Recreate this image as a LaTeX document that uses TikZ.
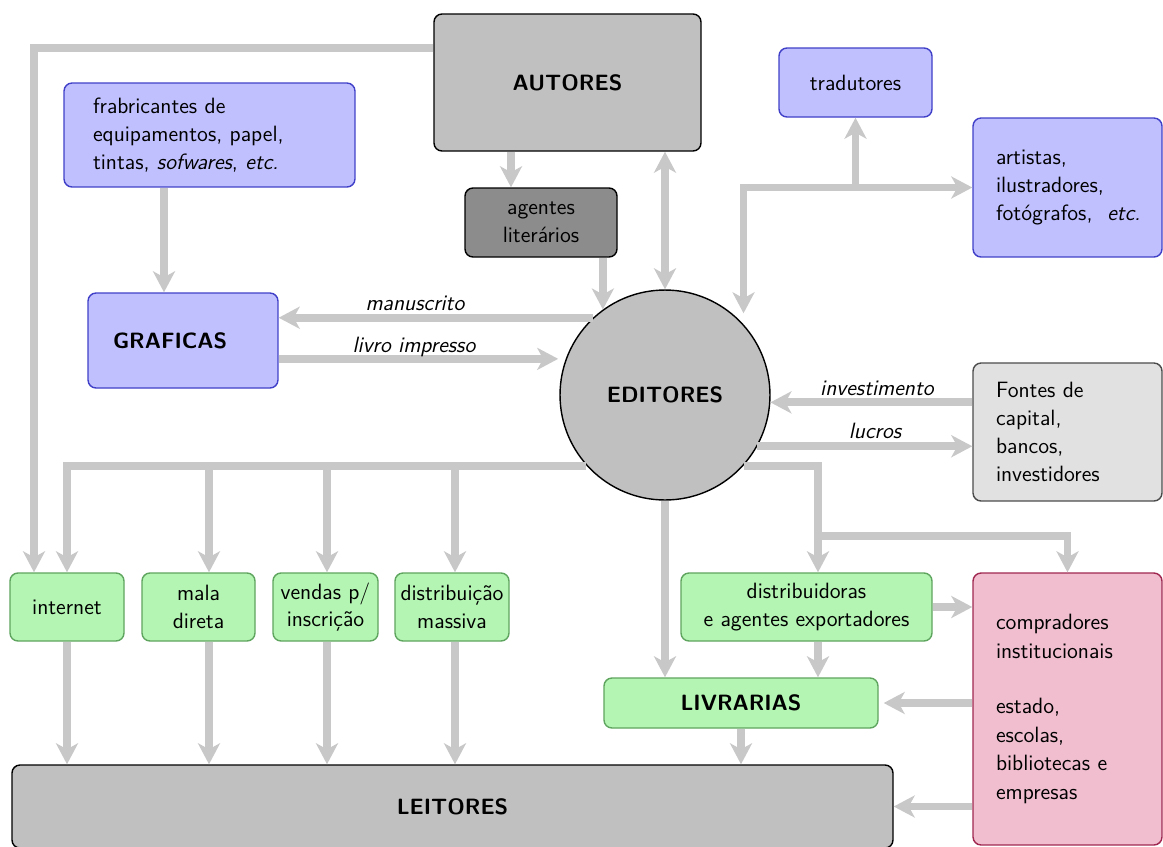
\documentclass[tikz,border=0pt]{standalone}
\usetikzlibrary{arrows.meta,positioning}
\definecolor{flowgray}{RGB}{200,200,200}
\definecolor{bluefill}{RGB}{192,192,255}
\definecolor{blueline}{RGB}{64,64,200}
\definecolor{greenfill}{RGB}{180,245,180}
\definecolor{greenline}{RGB}{95,165,95}
\definecolor{pinkfill}{RGB}{240,190,207}
\definecolor{pinkline}{RGB}{160,40,80}
\definecolor{grayfill}{RGB}{192,192,192}
\definecolor{darkfill}{RGB}{140,140,140}
\definecolor{lightfill}{RGB}{225,225,225}

\begin{document}
\begin{tikzpicture}[
    x=0.02cm, y=-0.02cm,
    every node/.style={font=\sffamily\fontsize{12.6}{15.8}\selectfont},
    box/.style={draw, rounded corners=0.16cm, line width=0.8pt, inner sep=2pt},
    boxsize/.style 2 args={minimum width=#1*0.02cm, minimum height=#2*0.02cm},
    actor/.style={box, fill=grayfill, draw=black},
    agent/.style={box, fill=darkfill, draw=black},
    finance/.style={box, fill=lightfill, draw=black!70},
    supplier/.style={box, fill=bluefill, draw=blueline},
    channel/.style={box, fill=greenfill, draw=greenline, align=center},
    buyer/.style={box, fill=pinkfill, draw=pinkline},
    lbl/.style={font=\sffamily\itshape\fontsize{12.6}{15}\selectfont, inner sep=0pt, anchor=base},
    flow/.style={draw=flowgray, line width=4.5pt, -{Stealth[length=0.42cm,width=0.44cm,inset=0.12cm]}},
    flowboth/.style={draw=flowgray, line width=4.5pt, {Stealth[length=0.42cm,width=0.44cm,inset=0.12cm]}-{Stealth[length=0.42cm,width=0.44cm,inset=0.12cm]}}
  ]
  \useasboundingbox (0,0) rectangle (1163,846);

  % authors, agents and the suppliers of the printers
  \node[actor, boxsize={267}{137}, font=\sffamily\bfseries\fontsize{12.6}{15.8}\selectfont] (autores) at (567.5,82.5) {AUTORES};
  \node[agent, boxsize={152}{69}, align=center] (agentes) at (541,222.5) {agentes\\literários};
  \node[supplier, minimum height=2.08cm, text width=4.66cm, inner xsep=0.58cm, align=left] (fabric) at (209.5,135)
    {frabricantes de\\equipamentos, papel,\\tintas, \textit{sofwares}, \textit{etc.}};
  \node[supplier, boxsize={153}{69}] (tradutores) at (855.5,82.5) {tradutores};
  \node[supplier, minimum height=2.78cm, text width=2.86cm, inner xsep=0.46cm, align=left] (artistas) at (1067.5,187.5)
    {artistas,\\ilustradores,\\fotógrafos,~ \textit{etc.}};
  \node[supplier, minimum height=1.9cm, text width=2.8cm, inner xsep=0.5cm, align=left, font=\sffamily\bfseries\fontsize{12.6}{15.8}\selectfont] (graficas) at (183,340.5) {GRAFICAS};

  % the publishers and their money
  \node[actor, circle, minimum size=4.2cm, inner sep=0pt, font=\sffamily\bfseries\fontsize{12.6}{15.8}\selectfont] (editores) at (665,395) {EDITORES};
  \node[finance, minimum height=2.76cm, text width=2.86cm, inner xsep=0.46cm, align=left] (fontes) at (1067.5,432)
    {Fontes de\\capital,\\bancos,\\investidores};

  % sales channels
  \node[channel, boxsize={114}{68}] (internet) at (67,607) {internet};
  \node[channel, boxsize={113}{68}] (mala) at (198.5,607) {mala\\direta};
  \node[channel, boxsize={105}{68}, inner xsep=1pt] (vendas) at (325.5,607) {vendas p/\\inscrição};
  \node[channel, boxsize={114}{68}, inner xsep=1pt] (massiva) at (452,607) {distribuição\\massiva};
  \node[channel, boxsize={251}{68}] (distrib) at (806.5,607) {distribuidoras\\e agentes exportadores};
  \node[channel, boxsize={274}{50}, font=\sffamily\bfseries\fontsize{12.6}{15.8}\selectfont] (livrarias) at (741,703) {LIVRARIAS};
  \node[buyer, minimum height=5.44cm, text width=2.86cm, inner xsep=0.46cm, align=left, font=\sffamily\fontsize{12.6}{16.4}\selectfont] (compradores) at (1067.5,709)
    {compradores\\institucionais\\[15pt]estado,\\escolas,\\bibliotecas e\\empresas};

  % the readers
  \node[actor, boxsize={881}{83}, font=\sffamily\bfseries\fontsize{12.6}{15.8}\selectfont] (leitores) at (452.5,806.5) {LEITORES};

  % arrows round the publishers
  \coordinate (looptop) at (34,48);
  \draw[flow] (autores.west |- looptop) -| (internet.north -| looptop);
  \draw[flow] ([xshift=-0.6cm]agentes.north |- autores.south) -- ([xshift=-0.6cm]agentes.north);
  \draw[flowboth] (editores.north |- autores.south) -- (editores.north);
  \draw[flow] (editores.126 |- agentes.south) -- (editores.126);
  \draw[flow] ([xshift=-0.38cm]graficas.north |- fabric.south) -- ([xshift=-0.38cm]graficas.north);
  \draw[flow] (editores.133.6) -- (graficas.east |- editores.133.6);
  \draw[flow, shorten >=0.15cm] (graficas.east |- editores.160.5) -- (editores.160.5);
  \draw[flowboth, shorten <=0.22cm] (editores.42) |- (artistas.west);
  \draw[flow] (tradutores.south |- artistas.west) -- (tradutores.south);
  \draw[flow] (fontes.west |- editores.-4.4) -- (editores.-4.4);
  \draw[flow] (editores.-29) -- (fontes.west |- editores.-29);

  % labels on the arrows
  \node[lbl] (lmanus) at (415,310) {manuscrito};
  \node[lbl] (llivro) at (414,352) {livro impresso};
  \node[lbl] (linvest) at (877,395) {investimento};
  \node[lbl] (llucros) at (875,438) {lucros};

  % from the publishers to the channels
  \draw[flow] (editores.222.5) -| (internet.north);
  \draw[flow] ([xshift=0.21cm]mala.north |- editores.222.5) -- ([xshift=0.21cm]mala.north);
  \draw[flow] ([xshift=0.03cm]vendas.north |- editores.222.5) -- ([xshift=0.03cm]vendas.north);
  \draw[flow] ([xshift=0.06cm]massiva.north |- editores.222.5) -- ([xshift=0.06cm]massiva.north);
  \coordinate (fork) at (818,536);
  \draw[flow] (editores.-42.5) -| (fork |- distrib.north);
  \draw[flow] (fork) -| (compradores.north);
  \draw[flow] (editores.south) -- (editores.south |- livrarias.north);
  \draw[flow] (distrib.east) -- (compradores.west |- distrib.east);
  \draw[flow] (fork |- distrib.south) -- (fork |- livrarias.north);
  \draw[flow, shorten >=0.1cm] (compradores.west |- livrarias.east) -- (livrarias.east);

  % from the channels to the readers
  \draw[flow] (internet.south) -- (internet.south |- leitores.north);
  \draw[flow] ([xshift=0.21cm]mala.south) -- ([xshift=0.21cm]mala.south |- leitores.north);
  \draw[flow] ([xshift=0.03cm]vendas.south) -- ([xshift=0.03cm]vendas.south |- leitores.north);
  \draw[flow] ([xshift=0.06cm]massiva.south) -- ([xshift=0.06cm]massiva.south |- leitores.north);
  \draw[flow] (livrarias.south) -- (livrarias.south |- leitores.north);
  \draw[flow] (compradores.west |- leitores.east) -- (leitores.east);
\end{tikzpicture}
\end{document}
